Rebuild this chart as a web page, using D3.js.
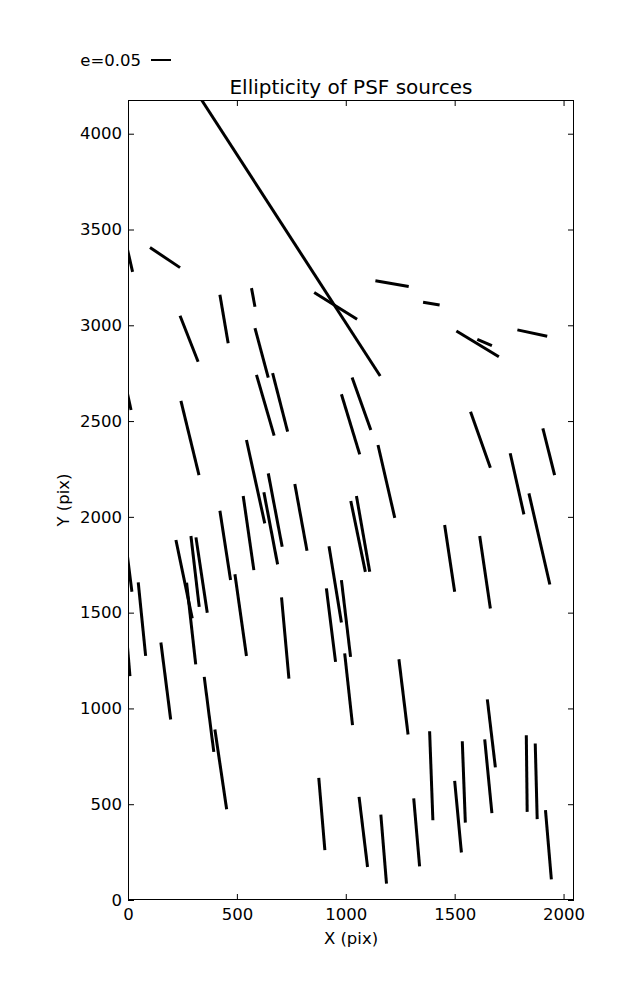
<!DOCTYPE html>
<html>
<head>
<meta charset="utf-8">
<script src="https://cdn.jsdelivr.net/npm/d3@7"></script>
<style>
  html, body { margin: 0; padding: 0; background: #fff; }
  svg { display: block; }
  text { font-family: "DejaVu Sans", sans-serif; fill: #000; }
</style>
</head>
<body>
<script>
// ---- data (detector pixel coordinates of each whisker's two ends) ----
const x0 = [338, -21, 101, 567, 422, 239, 583, 855, 1136, 1355, 1508, 1604, 1788, 664, 590, 1029, 980, -11, 243, 544, 644, 624, 529, 766, 422, 220, 269, 289, 312, -9, 47, 491, 705, 923, 911, 980, 1023, 1049, -5, 151, 350, 399, 876, 995, 1244, 1650, 1385, 1535, 1638, 1829, 1870, 1500, 1917, 1061, 1161, 1312, 1573, 1905, 1148, 1755, 1841, 1454, 1615];
const y0 = [4176, 3488, 3406, 3194, 3159, 3050, 2985, 3171, 3232, 3120, 2970, 2927, 2976, 2750, 2741, 2727, 2640, 2688, 2605, 2401, 2227, 2128, 2109, 2171, 2032, 1879, 1656, 1900, 1893, 1853, 1658, 1700, 1580, 1847, 1627, 1670, 2083, 2109, 1357, 1344, 1165, 890, 637, 1287, 1257, 1047, 881, 829, 838, 860, 817, 622, 469, 538, 446, 530, 2549, 2462, 2375, 2332, 2123, 1957, 1900];
const x1 = [1158, 21, 239, 583, 460, 322, 644, 1052, 1289, 1431, 1703, 1671, 1925, 733, 671, 1115, 1064, 14, 326, 628, 708, 687, 578, 822, 471, 295, 311, 327, 364, 18, 81, 544, 739, 980, 953, 1022, 1090, 1110, 9, 196, 394, 453, 904, 1031, 1286, 1687, 1400, 1549, 1671, 1833, 1879, 1531, 1944, 1100, 1187, 1339, 1664, 1959, 1225, 1818, 1937, 1500, 1664];
const y1 = [2735, 3279, 3301, 3097, 2906, 2810, 2727, 3032, 3202, 3106, 2836, 2894, 2943, 2445, 2424, 2453, 2326, 2558, 2218, 1966, 1844, 1752, 1722, 1823, 1670, 1470, 1230, 1530, 1499, 1609, 1274, 1274, 1156, 1449, 1243, 1269, 1713, 1713, 1168, 942, 773, 474, 260, 913, 864, 692, 416, 404, 454, 460, 422, 248, 108, 172, 86, 176, 2256, 2218, 1995, 2013, 1647, 1609, 1522];

const xTicks = [0, 500, 1000, 1500, 2000];
const yTicks = [0, 500, 1000, 1500, 2000, 2500, 3000, 3500, 4000];
const xDomain = [0, 2048];
const yDomain = [0, 4176];
const titleText = "Ellipticity of PSF sources";
const xLabel = "X (pix)";
const yLabel = "Y (pix)";
const keyE = 0.05;
const keyLabel = "e=" + keyE.toFixed(2);

// ---- layout ----
const W = 637, H = 1000;
const m = { left: 128, right: 574, top: 100, bottom: 900 };
const tickLen = 6;
const fs = 16.5;

const svg = d3.select("body").append("svg").attr("width", W).attr("height", H);

const x = d3.scaleLinear().domain(xDomain).range([m.left, m.right]);
const y = d3.scaleLinear().domain(yDomain).range([m.bottom, m.top]);

svg.append("defs").append("clipPath").attr("id", "clip")
  .append("rect").attr("x", m.left).attr("y", m.top)
  .attr("width", m.right - m.left).attr("height", m.bottom - m.top);

// whiskers
const segs = x0.map((d, i) => ({ x0: x0[i], y0: y0[i], x1: x1[i], y1: y1[i] }));
svg.append("g").attr("clip-path", "url(#clip)")
  .selectAll("line").data(segs).join("line")
  .attr("x1", d => x(d.x0)).attr("y1", d => y(d.y0))
  .attr("x2", d => x(d.x1)).attr("y2", d => y(d.y1))
  .attr("stroke", "#000").attr("stroke-width", 3).attr("stroke-linecap", "butt");

// axes (ticks inward on all four sides)
function styleAxis(g) {
  g.select(".domain").remove();
  g.selectAll(".tick line").attr("stroke", "#000").attr("stroke-width", 1);
  g.selectAll(".tick text").attr("font-family", "DejaVu Sans").attr("font-size", fs).attr("fill", "#000");
}
svg.append("g").attr("transform", `translate(0,${m.bottom})`)
  .call(d3.axisBottom(x).tickValues(xTicks).tickFormat(d3.format("d")).tickSizeInner(-tickLen).tickSizeOuter(0).tickPadding(tickLen + 2))
  .call(styleAxis);
svg.append("g").attr("transform", `translate(0,${m.top})`)
  .call(d3.axisTop(x).tickValues(xTicks).tickFormat("").tickSizeInner(-tickLen).tickSizeOuter(0))
  .call(styleAxis);
svg.append("g").attr("transform", `translate(${m.left},0)`)
  .call(d3.axisLeft(y).tickValues(yTicks).tickFormat(d3.format("d")).tickSizeInner(-tickLen).tickSizeOuter(0).tickPadding(tickLen + 0))
  .call(styleAxis);
svg.append("g").attr("transform", `translate(${m.right},0)`)
  .call(d3.axisRight(y).tickValues(yTicks).tickFormat("").tickSizeInner(-tickLen).tickSizeOuter(0))
  .call(styleAxis);

// frame
svg.append("rect").attr("x", m.left + 0.5).attr("y", m.top + 0.5)
  .attr("width", m.right - m.left - 1).attr("height", m.bottom - m.top - 1)
  .attr("fill", "none").attr("stroke", "#000").attr("stroke-width", 1);

// labels
svg.append("text").attr("x", (m.left + m.right) / 2).attr("y", 94)
  .attr("text-anchor", "middle").attr("font-size", 20).text(titleText);
svg.append("text").attr("x", (m.left + m.right) / 2).attr("y", 944)
  .attr("text-anchor", "middle").attr("font-size", fs).text(xLabel);
svg.append("text").attr("transform", `translate(69,${(m.top + m.bottom) / 2}) rotate(-90)`)
  .attr("text-anchor", "middle").attr("font-size", fs).text(yLabel);

// quiver key
const keyPx = 20 / keyE; // pixels per unit ellipticity
svg.append("text").attr("x", 141).attr("y", 66).attr("text-anchor", "end")
  .attr("font-size", fs).text(keyLabel);
svg.append("line").attr("x1", 151).attr("x2", 151 + keyE * keyPx)
  .attr("y1", 60).attr("y2", 60).attr("stroke", "#000").attr("stroke-width", 2);
</script>
</body>
</html>
